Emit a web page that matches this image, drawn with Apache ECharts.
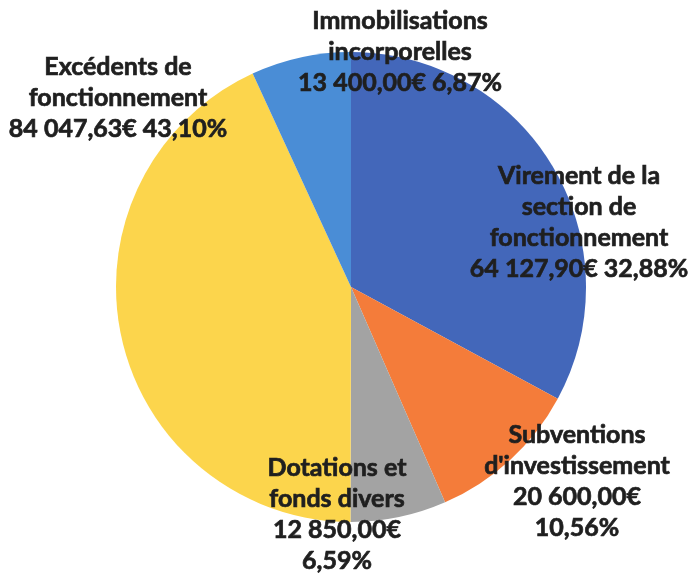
<!DOCTYPE html>
<html>
<head>
<meta charset="utf-8">
<script src="https://cdn.jsdelivr.net/npm/echarts@6/dist/echarts.min.js"></script>
<style>
  html, body { margin: 0; padding: 0; background: #ffffff; }
  #chart { width: 691px; height: 575px; }
</style>
</head>
<body>
<div id="chart"></div>
<script>
// données (ordre horaire à partir de midi)
var categories = [
  "Virement de la\nsection de\nfonctionnement",
  "Subventions\nd'investissement",
  "Dotations et\nfonds divers",
  "Excédents de\nfonctionnement",
  "Immobilisations\nincorporelles"
];
var amounts = [64127.90, 20600.00, 12850.00, 84047.63, 13400.00];
// séparateur entre montant et pourcentage dans l'étiquette
var labelJoin = [" ", "\n", "\n", " ", " "];

var sliceColors = ["#4367ba", "#f47c3a", "#a3a3a3", "#fcd54c", "#4a8dd6"];
// centre des étiquettes (px)
var labelCenters = [[579, 222], [577, 481], [337, 514], [118, 98], [400, 52]];

function formatEuro(v) {
  var parts = v.toFixed(2).split(".");
  var intPart = parts[0].replace(/\B(?=(\d{3})+(?!\d))/g, " ");
  return intPart + "," + parts[1] + "€";
}

var chart = echarts.init(document.getElementById("chart"));

var seriesData = categories.map(function (name, i) {
  return { name: name, value: amounts[i], itemStyle: { color: sliceColors[i] } };
});

chart.setOption({
  backgroundColor: "#ffffff",
  animation: false,
  series: [
    {
      type: "pie",
      center: [351, 287],
      radius: 235,
      startAngle: 90,
      clockwise: true,
      data: seriesData,
      itemStyle: { borderWidth: 0 },
      labelLine: { show: false },
      label: {
        show: true,
        position: "inside",
        fontFamily: "Lato",
        fontWeight: "bold",
        fontSize: 25,
        lineHeight: 31,
        color: "#1f1f1f",
        textBorderColor: "#1f1f1f",
        textBorderWidth: 0.7,
        align: "center",
        formatter: function (p) {
          return p.name + "\n" + formatEuro(p.value) + labelJoin[p.dataIndex] +
            p.percent.toFixed(2).replace(".", ",") + "%";
        }
      },
      labelLayout: function (p) {
        var c = labelCenters[p.dataIndex];
        return { x: c[0], y: c[1], align: "center", verticalAlign: "middle", hideOverlap: false };
      }
    }
  ]
});
</script>
</body>
</html>
